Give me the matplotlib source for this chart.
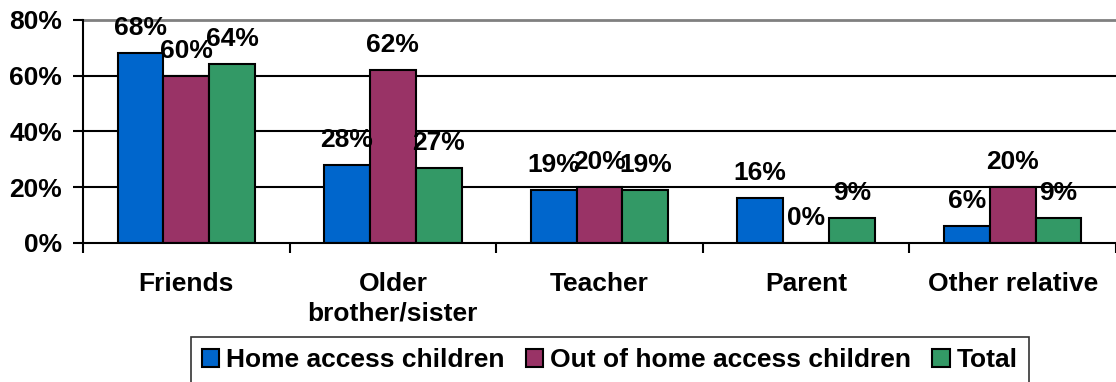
import matplotlib
import numpy as np
from matplotlib import pyplot as plt

matplotlib.use("Agg")

categories = ["Friends", "Older\nbrother/sister", "Teacher", "Parent", "Other relative"]
series_names = ["Home access children", "Out of home access children", "Total"]
home_access = [68, 28, 19, 16, 6]
out_of_home = [60, 62, 20, 0, 20]
total = [64, 27, 19, 9, 9]
y_ticks = [0, 20, 40, 60, 80]

colors = ["#0066CC", "#993366", "#339966"]
fs = 19

plt.rcParams["font.family"] = ["Liberation Sans", "DejaVu Sans"]
plt.rcParams["font.weight"] = "bold"

fig = plt.figure(figsize=(11.16, 3.82), dpi=100)
ax = fig.add_axes([0.0744, 0.364, 0.9256, 0.584])

x = np.arange(len(categories))
width = 0.222
for i, (vals, name) in enumerate(zip([home_access, out_of_home, total], series_names)):
    pos = x + (i - 1) * width
    ax.bar(pos, vals, width, color=colors[i], edgecolor="black", linewidth=1.5,
           label=name, zorder=3)
    for px, v in zip(pos, vals):
        ax.annotate(f"{v}%", (px, v), xytext=(0, 18), textcoords="offset points",
                    ha="center", va="center", fontsize=fs, fontweight="bold", zorder=4)

ax.set_xlim(-0.5, len(categories) - 0.5)
ax.set_ylim(0, 80)
ax.set_yticks(y_ticks)
ax.set_yticklabels([f"{t}%" for t in y_ticks], fontsize=fs, fontweight="bold")

# gridlines: black, except the top border which is grey
for t in y_ticks[1:-1]:
    ax.axhline(t, color="black", lw=1.5, zorder=1)
ax.axhline(80, color="#808080", lw=2, zorder=1, clip_on=False)

ax.set_xticks(x)
ax.set_xticklabels(categories, fontsize=fs, fontweight="bold", linespacing=1.3)
ax.tick_params(axis="x", length=0, pad=21)
ax.set_xticks(np.arange(len(categories) + 1) - 0.5, minor=True)
ax.tick_params(axis="x", which="minor", length=7, width=1.5, direction="out")
ax.tick_params(axis="y", length=7, width=1.5, direction="out", pad=8)

for s in ["top", "right"]:
    ax.spines[s].set_visible(False)
ax.spines["left"].set_linewidth(1.5)
ax.spines["bottom"].set_linewidth(1.5)
ax.spines["bottom"].set_zorder(5)

leg = fig.legend(loc="upper left", bbox_to_anchor=(191 / 1116, 1 - 337 / 382), ncol=3,
                 frameon=True, fancybox=False, edgecolor="black",
                 prop={"size": fs, "weight": "bold"}, handlelength=0.65,
                 handleheight=0.65, handletextpad=0.27, columnspacing=0.8,
                 borderpad=0.42, borderaxespad=0)
leg.get_frame().set_linewidth(1.2)

fig.savefig("out.png", dpi=100)
